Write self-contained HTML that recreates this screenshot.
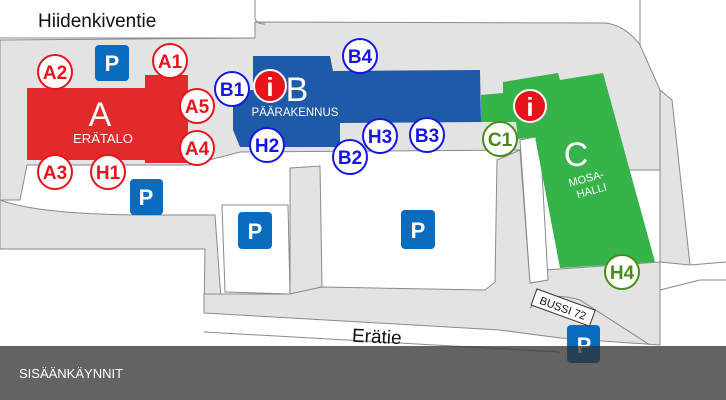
<!DOCTYPE html>
<html><head><meta charset="utf-8"><style>
html,body{margin:0;padding:0;background:#fff;}
svg{display:block;font-family:"Liberation Sans",Arial,sans-serif;}
</style></head><body>
<svg width="726" height="400" viewBox="0 0 726 400" xmlns="http://www.w3.org/2000/svg">
<rect width="726" height="400" fill="#fff"/>
<g fill="#e3e3e3" stroke="#8a8a8a" stroke-width="1">
<!-- top pavement -->
<path d="M0,40 L255,38 L255,22 L605,23 Q625,25 640,45 L660,90 L660,170 L540,170 L520,150 L240,152 L190,165 L27,165 L20,200 L0,200 Z"/>
<!-- left strip -->
<path d="M0,200 Q40,215 150,215 L215,215 L222,313 L204,313 L205,249 L0,249 Z"/>
<!-- band between lots -->
<path d="M290,168 L320,166 L322,287 L290,294 Z"/>
<!-- bottom band -->
<path d="M204,294 L290,294 L322,287 L485,290 L495,282 L497,160 L520,150 L530,283 L548,280 L545,270 L660,262 L660,345 L560,338 L500,330 L204,313 Z"/>
<!-- right side -->
<path d="M660,90 L672,100 L690,265 L660,262 Z"/>
</g>
<g fill="#fff" stroke="#8a8a8a" stroke-width="1">
<path d="M222,205 L288,205 L290,294 L225,292 Z"/>
<path d="M520,140 L540,136 L548,280 L530,283 Z"/>
</g>
<path d="M0,38 L255,38" stroke="#8a8a8a" fill="none"/>
<path d="M255,0 L255,18 Q256,24 265,24" stroke="#8a8a8a" fill="none"/>
<path d="M204,332 L560,352" stroke="#8a8a8a" fill="none"/>
<path d="M530,308 Q545,290 580,300 L650,345" stroke="#8a8a8a" fill="none"/>
<path d="M660,290 L700,280 L726,280" stroke="#8a8a8a" fill="none"/>
<path d="M640,0 L640,45 M690,265 L726,262" stroke="#8a8a8a" fill="none"/>
<!-- Building A -->
<path d="M27,88 L145,88 L145,75 L188,75 L188,163 L145,163 L145,160 L27,160 Z" fill="#e2292c"/>
<text x="100" y="126" fill="#fff" font-size="34" text-anchor="middle">A</text>
<text x="103" y="143" fill="#fff" font-size="13" text-anchor="middle">ERÄTALO</text>
<!-- Building B -->
<path d="M253,56 L330,56 L333,71 L480,70 L481,122 L340,123 L340,147 L240,147 L233,130 L233,90 L253,90 Z" fill="#1e5aa8"/>
<text x="297" y="101" fill="#fff" font-size="34" text-anchor="middle">B</text>
<text x="295" y="116" fill="#fff" font-size="11.5" text-anchor="middle">PÄÄRAKENNUS</text>
<!-- Building C -->
<path d="M481,95 L503,93 L503,82 L558,73 L560,80 L603,73 L655,262 L560,268 L535,137 L518,139 L516,122 L481,122 Z" fill="#36b34a"/>
<text x="576" y="166" fill="#fff" font-size="34" text-anchor="middle">C</text>
<g transform="rotate(-15 588 185)"><text x="588" y="182" fill="#fff" font-size="11" text-anchor="middle">MOSA-</text><text x="590" y="195" fill="#fff" font-size="11" text-anchor="middle">HALLI</text></g>
<g fill="#0a6cbf">
<rect x="95" y="45" width="34" height="36" rx="4"/>
<rect x="130" y="179" width="33" height="36" rx="4"/>
<rect x="238" y="212" width="34" height="37" rx="4"/>
<rect x="401" y="210" width="34" height="39" rx="4"/>
<rect x="567" y="325" width="33" height="38" rx="4"/>
</g>
<g fill="#fff" font-size="22" font-weight="bold" text-anchor="middle">
<text x="112" y="71">P</text><text x="146" y="205">P</text><text x="255" y="239">P</text><text x="418" y="238">P</text><text x="584" y="353">P</text>
</g>
<g font-size="19" font-weight="bold" text-anchor="middle" stroke-width="2">
<g fill="#fff" stroke="#e8141b">
<circle cx="170" cy="61" r="17"/><circle cx="55" cy="72" r="17"/><circle cx="197" cy="106" r="17"/><circle cx="197" cy="148" r="17"/><circle cx="55" cy="172" r="17"/><circle cx="108" cy="172" r="17"/>
</g>
<g fill="#e8141b"><text x="170" y="68">A1</text><text x="55" y="79">A2</text><text x="197" y="113">A5</text><text x="197" y="155">A4</text><text x="55" y="179">A3</text><text x="108" y="179">H1</text></g>
<g fill="#fff" stroke="#1515e6">
<circle cx="232" cy="89" r="17"/><circle cx="360" cy="56" r="17"/><circle cx="267" cy="145" r="17"/><circle cx="350" cy="157" r="17"/><circle cx="380" cy="136" r="17"/><circle cx="427" cy="135" r="17"/>
</g>
<g fill="#1515e6"><text x="232" y="96">B1</text><text x="360" y="63">B4</text><text x="267" y="152">H2</text><text x="350" y="164">B2</text><text x="380" y="143">H3</text><text x="427" y="142">B3</text></g>
<g fill="#fff" stroke="#4a8a1a">
<circle cx="500" cy="139" r="17"/><circle cx="622" cy="272" r="17"/>
</g>
<g fill="#4a8a1a"><text x="500" y="146">C1</text><text x="622" y="279">H4</text></g>
<circle cx="270" cy="86" r="16" fill="#e8141b" stroke="#fff"/>
<circle cx="530" cy="106" r="16" fill="#e8141b" stroke="#fff"/>
</g>
<g fill="#fff" font-size="26" font-weight="bold" text-anchor="middle"><text x="270" y="96">i</text><text x="530" y="116">i</text></g>
<text x="38" y="27" font-size="19" fill="#111">Hiidenkiventie</text>
<text x="352" y="343" font-size="19" fill="#111" transform="rotate(3 378 337)">Erätie</text>
<g transform="rotate(20 563 308)"><rect x="532" y="299" width="62" height="17" fill="#fff" stroke="#333"/><text x="563" y="312" font-size="11" text-anchor="middle" fill="#111">BUSSI 72</text></g>
<rect x="0" y="346" width="726" height="54" fill="rgba(50,50,50,0.76)"/>
<text x="19" y="378" font-size="13" fill="#fff">SISÄÄNKÄYNNIT</text>
</svg>
</body></html>
